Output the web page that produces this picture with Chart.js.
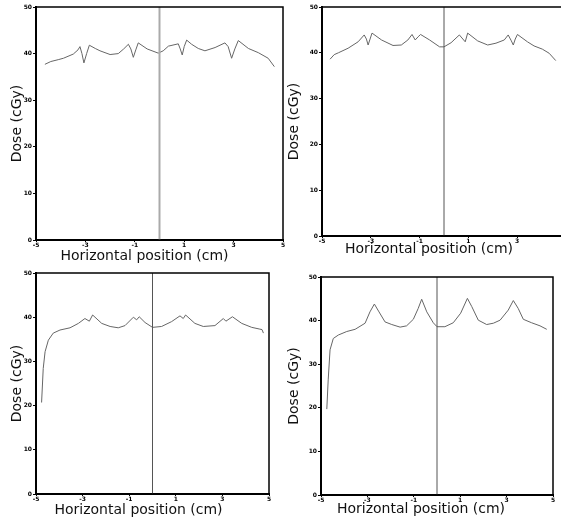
<!DOCTYPE html>
<html><head><meta charset="utf-8">
<script src="https://cdn.jsdelivr.net/npm/chart.js@4.4.0/dist/chart.umd.min.js"></script>
<style>
html,body{margin:0;padding:0;background:#fff;overflow:hidden;width:561px;height:521px;}
canvas{position:absolute;display:block;}
</style></head><body>
<canvas id="c1" width="290" height="265" style="left:0;top:0"></canvas>
<canvas id="c2" width="300" height="258" style="left:280px;top:0"></canvas>
<canvas id="c3" width="290" height="259" style="left:0;top:260px"></canvas>
<canvas id="c4" width="281" height="258" style="left:280px;top:260px"></canvas>
<script>
const xTicks = [-5, -3, -1, 1, 3, 5];
const yTicks = [0, 10, 20, 30, 40, 50];
const xTitle = 'Horizontal position (cm)';
const yTitle = 'Dose (cGy)';
const markerX = [0, 0];
const markerY = [0, 50];

const p1X = [-4.64,-4.4,-4.1,-3.89,-3.49,-3.3,-3.22,-3.14,-3.06,-2.95,-2.84,-2.6,-2.41,-2.0,-1.67,-1.45,-1.26,-1.16,-1.06,-0.96,-0.86,-0.5,-0.05,0.15,0.36,0.76,0.84,0.92,1.0,1.1,1.3,1.57,1.84,2.25,2.65,2.78,2.92,3.05,3.19,3.6,4.0,4.4,4.65];
const p1Y = [37.7,38.3,38.7,39.0,39.9,40.8,41.5,40.0,38.0,40.0,41.8,41.1,40.6,39.8,40.0,41.0,42.0,41.0,39.2,40.8,42.3,41.0,40.1,40.6,41.6,42.1,41.0,39.7,41.5,42.9,42.0,41.1,40.6,41.3,42.3,41.5,39.0,41.0,42.8,41.1,40.2,39.0,37.2];

const p2X = [-4.67,-4.5,-4.33,-3.93,-3.52,-3.27,-3.18,-3.11,-3.03,-2.95,-2.56,-2.09,-1.75,-1.48,-1.31,-1.18,-1.06,-0.96,-0.59,-0.18,0,0.29,0.63,0.87,0.97,1.38,1.79,2.13,2.47,2.63,2.76,2.84,2.92,3.01,3.42,3.69,4.03,4.31,4.58];
const p2Y = [38.6,39.6,40.0,41.0,42.4,43.9,43.0,41.7,43.0,44.3,42.8,41.6,41.7,42.8,44.0,42.8,43.5,44.0,42.8,41.3,41.3,42.2,43.9,42.4,44.3,42.6,41.7,42.1,42.8,43.9,42.6,41.7,43.0,44.0,42.4,41.5,40.8,39.9,38.3];

const p3X = [-4.76,-4.69,-4.61,-4.47,-4.26,-3.97,-3.54,-3.18,-2.9,-2.71,-2.57,-2.18,-1.82,-1.47,-1.18,-0.82,-0.68,-0.57,-0.32,0,0.39,0.82,1.18,1.32,1.42,1.82,2.18,2.68,3.04,3.15,3.43,3.83,4.26,4.61,4.7,4.76];
const p3Y = [20.7,28.4,32.2,34.8,36.4,37.1,37.6,38.6,39.7,39.1,40.5,38.6,37.9,37.6,38.1,40.0,39.4,40.1,38.8,37.7,37.9,39.0,40.3,39.7,40.5,38.6,37.9,38.1,39.7,39.1,40.1,38.6,37.7,37.3,37.2,36.4];

const p4X = [-4.75,-4.69,-4.61,-4.47,-4.25,-3.89,-3.53,-3.1,-2.89,-2.7,-2.5,-2.24,-1.95,-1.59,-1.31,-1.02,-0.81,-0.66,-0.44,-0.16,0,0.34,0.7,1.02,1.31,1.5,1.78,2.14,2.43,2.72,3.07,3.29,3.5,3.72,4.08,4.44,4.73];
const p4Y = [19.7,26.4,33.3,35.9,36.7,37.5,38.0,39.4,42.0,43.8,42.0,39.7,39.1,38.5,38.8,40.3,42.8,44.9,42.0,39.5,38.6,38.6,39.5,41.7,45.1,43.2,40.1,39.1,39.4,40.1,42.4,44.6,42.8,40.3,39.5,38.8,38.0];

const framePlugin = {
  id: 'frame',
  afterDraw(chart) {
    const a = chart.chartArea, ctx = chart.ctx;
    ctx.save();
    ctx.strokeStyle = '#000';
    ctx.lineWidth = 1.5;
    ctx.strokeRect(a.left, a.top, a.right - a.left, a.bottom - a.top);
    ctx.restore();
  }
};

function pts(xs, ys) { return xs.map((x, i) => ({x: x, y: ys[i]})); }

function makeChart(id, xs, ys, L) {
  const tickFont = {family: 'DejaVu Sans', size: 6, weight: 'bold'};
  const titleFont = {family: 'DejaVu Sans', size: 14};
  new Chart(document.getElementById(id), {
    type: 'scatter',
    data: {
      datasets: [
        {data: pts(markerX, markerY), showLine: true, borderColor: L.vColor, borderWidth: L.vWidth, pointRadius: 0},
        {data: pts(xs, ys), showLine: true, borderColor: '#666', borderWidth: 1, pointRadius: 0, tension: 0}
      ]
    },
    options: {
      responsive: false,
      animation: false,
      devicePixelRatio: 1,
      layout: {padding: {top: L.padTop, right: L.padRight, left: 0, bottom: 0}},
      plugins: {legend: {display: false}, tooltip: {enabled: false}},
      scales: {
        x: {
          type: 'linear', min: -5, max: 5,
          afterBuildTicks: s => { s.ticks = xTicks.map(v => ({value: v})); },
          afterFit: s => {
            s.height = L.xH;
            if (!s._shifted) {
              const orig = s.drawTitle.bind(s);
              s.drawTitle = function () {
                const c = this.ctx; c.save(); c.translate(L.xShift, 0); orig(); c.restore();
              };
              s._shifted = true;
            }
          },
          ticks: {font: tickFont, color: '#000', padding: 0, maxRotation: 0, autoSkip: false, callback: v => String(v)},
          grid: {display: true, drawOnChartArea: false, drawTicks: true, tickLength: 2, color: '#000'},
          border: {display: true, color: '#000', width: 2},
          title: {display: true, text: xTitle, font: titleFont, color: '#111', padding: {top: 0, bottom: 0}}
        },
        y: {
          type: 'linear', min: 0, max: 50,
          afterBuildTicks: s => { s.ticks = yTicks.map(v => ({value: v})); },
          afterFit: s => { s.width = L.yW; },
          ticks: {font: tickFont, color: '#000', padding: 1, autoSkip: false, callback: v => String(v)},
          grid: {display: true, drawOnChartArea: false, drawTicks: true, tickLength: 3, color: '#000'},
          border: {display: true, color: '#000', width: 2},
          title: {display: true, text: yTitle, font: titleFont, color: '#111', padding: {top: L.yTitlePad, bottom: 0}}
        }
      }
    },
    plugins: [framePlugin]
  });
}

makeChart('c1', p1X, p1Y, {padTop: 7, padRight: 7, yW: 36, xH: 25, yTitlePad: 9, xShift: -15, vColor: '#aaa', vWidth: 2});
makeChart('c2', p2X, p2Y, {padTop: 7, padRight: 14, yW: 42, xH: 22, yTitlePad: 6, xShift: -15, vColor: '#555', vWidth: 1});
makeChart('c3', p3X, p3Y, {padTop: 13, padRight: 21, yW: 36, xH: 25, yTitlePad: 8.6, xShift: -14, vColor: '#555', vWidth: 1});
makeChart('c4', p4X, p4Y, {padTop: 17, padRight: 8, yW: 41, xH: 23, yTitlePad: 6, xShift: -16, vColor: '#555', vWidth: 1});
</script>
</body></html>
